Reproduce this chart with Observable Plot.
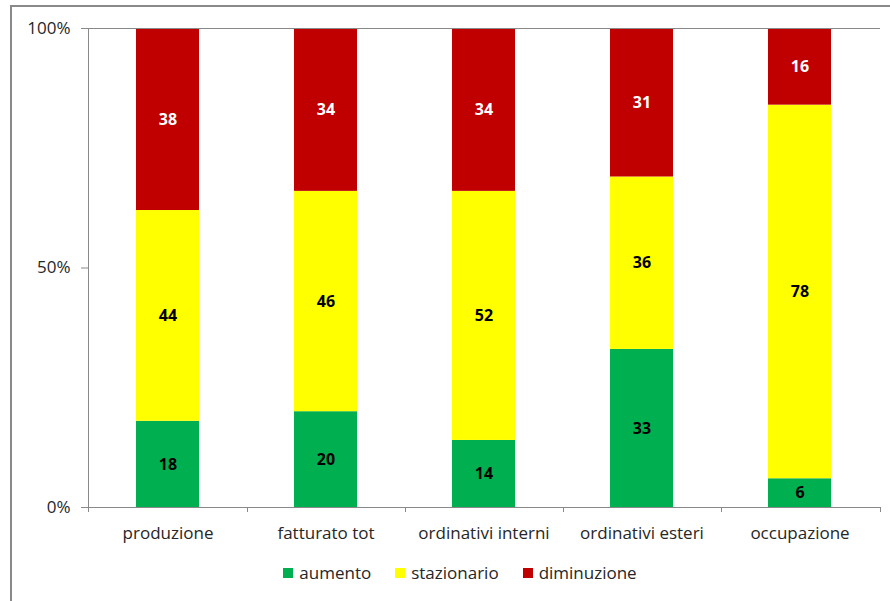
<!DOCTYPE html>
<html>
<head>
<meta charset="utf-8">
<script src="https://cdn.jsdelivr.net/npm/d3@7"></script>
<script src="https://cdn.jsdelivr.net/npm/@observablehq/plot@0.6"></script>
<style>
  html, body { margin: 0; padding: 0; background: #fff; }
  #wrap { position: relative; width: 890px; height: 601px; overflow: hidden; font-family: "Open Sans", sans-serif; }
  #frame { position: absolute; left: 10px; top: 5px; width: 900px; height: 620px; border-left: 2px solid #898989; border-top: 2px solid #898989; box-sizing: border-box; }
  #chart { position: absolute; left: 0; top: 0; }
  #legend { position: absolute; left: 0; width: 890px; top: 561px; display: flex; justify-content: center; gap: 24px; font-size: 17px; color: #262626; padding-left: 30px; box-sizing: border-box; }
  .item { display: flex; align-items: center; gap: 6px; }
  .sw { width: 10px; height: 10px; display: inline-block; }
</style>
</head>
<body>
<div id="wrap">
  <div id="frame"></div>
  <div id="chart"></div>
  <div id="legend"></div>
</div>
<script>
const categories = ["produzione", "fatturato tot", "ordinativi interni", "ordinativi esteri", "occupazione"];
const series = ["aumento", "stazionario", "diminuzione"];
const aumento = [18, 20, 14, 33, 6];
const stazionario = [44, 46, 52, 36, 78];
const diminuzione = [38, 34, 34, 31, 16];
const colors = ["#00B050", "#FFFF00", "#C00000"];
const yTicks = [0, 50, 100];

const values = {aumento, stazionario, diminuzione};
const data = [];
categories.forEach((c, i) => {
  series.forEach(s => data.push({cat: c, serie: s, value: values[s][i]}));
});

function boundaryTicks(index, scales, channels, dimensions) {
  const x = scales.x, y = scales.y;
  const bw = typeof x.bandwidth === "function" ? x.bandwidth() : x.bandwidth;
  const {width, marginLeft, marginRight} = dimensions;
  const y0 = y(0), y1 = y(100);
  const xs = [marginLeft];
  for (let i = 0; i < categories.length - 1; i++) {
    xs.push((x(categories[i]) + x(categories[i + 1])) / 2 + bw / 2);
  }
  xs.push(width - marginRight);
  const g = d3.create("svg:g").attr("stroke", "#898989").attr("stroke-width", 1).attr("fill", "none");
  for (const xv of xs) {
    g.append("line").attr("x1", Math.round(xv) + 0.5).attr("x2", Math.round(xv) + 0.5).attr("y1", y0).attr("y2", y0 + 5);
  }
  g.append("line").attr("x1", marginLeft + 0.5).attr("x2", marginLeft + 0.5).attr("y1", y1).attr("y2", y0);
  return g.node();
}

const chart = Plot.plot({
  width: 890,
  height: 550,
  marginLeft: 88,
  marginRight: 10,
  marginTop: 28,
  marginBottom: 43,
  style: {fontFamily: "'Open Sans', sans-serif", fontSize: "17px", background: "transparent", color: "#262626"},
  x: {domain: categories, paddingInner: 0.6, paddingOuter: 0.3, label: null},
  y: {domain: [0, 100], label: null},
  color: {domain: series, range: colors},
  marks: [
    Plot.barY(data, Plot.stackY({x: "cat", y: "value", fill: "serie"})),
    Plot.ruleY([0, 100], {stroke: "#898989", strokeWidth: 1}),
    Plot.text(data.filter(d => d.serie !== "diminuzione"), Plot.stackY({x: "cat", y: "value", z: "serie", text: d => String(d.value), fill: "#000", fontWeight: "bold", fontSize: 16})),
    Plot.text(data, Plot.stackY({x: "cat", y: "value", z: "serie", text: d => d.serie === "diminuzione" ? String(d.value) : "", fill: "#fff", fontWeight: "bold", fontSize: 16})),
    Plot.axisY({ticks: yTicks, tickFormat: d => d + "%", tickSize: 7, tickPadding: 11, stroke: "#898989", fill: "#262626", fontSize: 17, label: null}),
    Plot.axisX({tickSize: 0, tickPadding: 19, fill: "#262626", fontSize: 17, label: null}),
    boundaryTicks
  ]
});
document.getElementById("chart").appendChild(chart);

const legend = document.getElementById("legend");
series.forEach((s, i) => {
  const item = document.createElement("div");
  item.className = "item";
  const sw = document.createElement("span");
  sw.className = "sw";
  sw.style.background = colors[i];
  const t = document.createElement("span");
  t.textContent = s;
  item.appendChild(sw);
  item.appendChild(t);
  legend.appendChild(item);
});
</script>
</body>
</html>
